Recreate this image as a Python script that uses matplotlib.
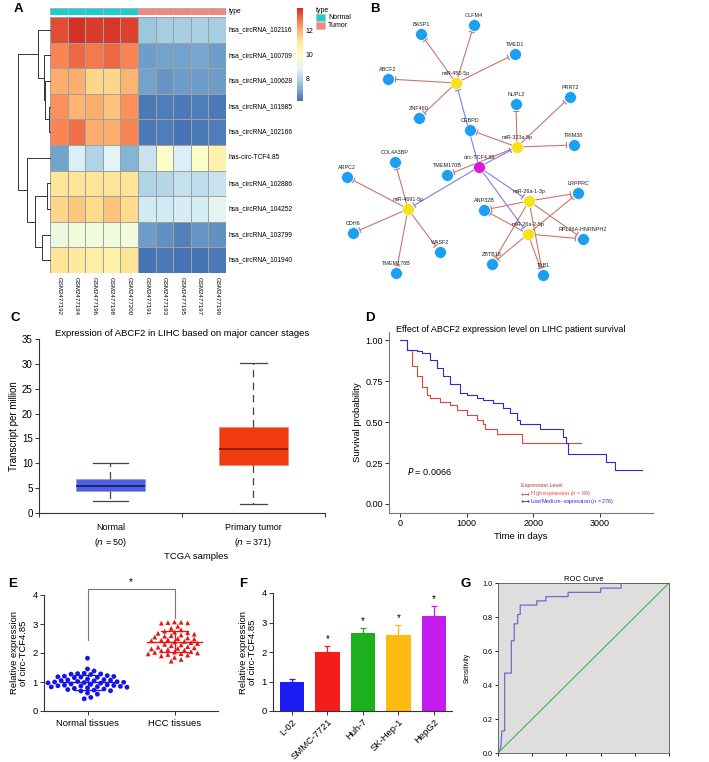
import numpy as np
import matplotlib
matplotlib.use("Agg")
import matplotlib.pyplot as plt
from matplotlib.colors import LinearSegmentedColormap, ListedColormap, Normalize
from matplotlib.patches import Rectangle
from matplotlib.cm import ScalarMappable

plt.rcParams['font.family'] = ['Liberation Sans', 'DejaVu Sans']

W, H = 709, 762

# ---------------- A: heatmap ----------------
row_names = ['hsa_circRNA_102116', 'hsa_circRNA_100709', 'hsa_circRNA_100628',
             'hsa_circRNA_101985', 'hsa_circRNA_102166', 'has-circ-TCF4.85',
             'hsa_circRNA_102886', 'hsa_circRNA_104252', 'hsa_circRNA_103799',
             'hsa_circRNA_101940']
col_names = ['GSM2477192', 'GSM2477194', 'GSM2477196', 'GSM2477198', 'GSM2477200',
             'GSM2477191', 'GSM2477193', 'GSM2477195', 'GSM2477197', 'GSM2477199']
sample_type = ['Normal'] * 5 + ['Tumor'] * 5
expr = np.array([
    [13.4, 13.8, 13.6, 13.7, 13.5, 7.7, 7.8, 7.8, 7.9, 7.8],
    [12.6, 13.0, 12.8, 13.0, 12.6, 6.9, 7.0, 7.0, 7.1, 6.9],
    [12.0, 12.0, 11.4, 11.4, 11.9, 7.0, 6.8, 6.9, 6.9, 6.9],
    [12.5, 11.9, 12.0, 11.7, 12.5, 6.3, 6.4, 6.3, 6.4, 6.3],
    [12.6, 12.9, 12.0, 12.0, 12.6, 6.3, 6.4, 6.2, 6.3, 6.4],
    [7.0, 8.7, 8.0, 8.8, 7.3, 8.4, 9.8, 8.7, 9.8, 10.6],
    [11.0, 11.0, 11.1, 11.1, 11.0, 8.0, 8.1, 8.3, 8.2, 8.4],
    [11.4, 11.6, 11.3, 11.7, 11.3, 8.5, 8.5, 8.6, 8.6, 8.9],
    [9.3, 9.4, 9.4, 9.4, 9.4, 6.9, 6.7, 6.5, 6.8, 6.7],
    [11.1, 10.9, 10.7, 10.5, 11.1, 6.2, 6.3, 6.2, 6.2, 6.3],
])
# row clustering: (cluster a, cluster b, height); leaves 0-9, new ids from 10
row_merges = [(3, 4, 0.03), (2, 10, 0.15), (1, 11, 0.18), (0, 12, 0.38),
              (6, 7, 0.09), (8, 9, 0.25), (14, 15, 0.47), (5, 16, 0.72),
              (13, 17, 1.0)]

# ---------------- B: network ----------------
circ_name = 'circ-TCF4.85'
node_pos = {
    'BASP1': (421, 34), 'OLFM4': (474, 25), 'TMED1': (515, 54), 'ABCF2': (388, 79),
    'miR-450-5p': (456, 83), 'ZNF460': (419, 118), 'NUPL2': (516, 104),
    'PRRT2': (570, 97), 'CEBPD': (470, 130), 'miR-323a-5p': (517, 147),
    'TRIM38': (574, 145), 'COL4A3BP': (395, 162), 'circ-TCF4.85': (479, 167),
    'TMEM170B': (447, 175), 'LRPPRC': (578, 193), 'miR-26a-1-3p': (529, 201),
    'ANP32B': (484, 210), 'miR-4691-5p': (408, 209), 'miR-26a-2-5p': (528, 234),
    'RPL36A-HNRNPH2': (583, 239), 'WASF2': (440, 252), 'ZBTB18': (492, 264),
    'TMEM178B': (396, 273), 'TAB1': (543, 275), 'ARPC2': (347, 177), 'CDH6': (353, 233),
}
mirna_targets = {
    'miR-450-5p': ['BASP1', 'OLFM4', 'TMED1', 'ABCF2', 'ZNF460'],
    'miR-323a-5p': ['NUPL2', 'PRRT2', 'CEBPD', 'TRIM38', 'TMEM170B'],
    'miR-4691-5p': ['COL4A3BP', 'ARPC2', 'CDH6', 'WASF2', 'TMEM178B'],
    'miR-26a-1-3p': ['LRPPRC', 'ANP32B', 'RPL36A-HNRNPH2', 'ZBTB18', 'TAB1'],
    'miR-26a-2-5p': ['LRPPRC', 'ANP32B', 'RPL36A-HNRNPH2', 'ZBTB18', 'TAB1'],
}

# ---------------- C: box plot ----------------
box_groups = ['Normal', 'Primary tumor']
box_n = [50, 371]
box_whislo = [2.4, 1.8]
box_q1 = [4.5, 9.6]
box_med = [5.4, 12.8]
box_q3 = [6.8, 17.3]
box_whishi = [10.0, 30.2]

# ---------------- D: Kaplan-Meier ----------------
km_high_t = [0, 100, 175, 250, 325, 400, 450, 600, 750, 850, 1000, 1150, 1250, 1275, 1450, 1835, 2725]
km_high_s = [1.0, 0.94, 0.84, 0.78, 0.715, 0.665, 0.645, 0.625, 0.605, 0.575, 0.545, 0.51, 0.49, 0.46, 0.43, 0.37, 0.37]
km_low_t = [0, 100, 250, 325, 450, 550, 650, 750, 900, 1000, 1150, 1250, 1400, 1550, 1650, 1750,
            1800, 2100, 2450, 2500, 2525, 3090, 3225, 3635]
km_low_s = [1.0, 0.94, 0.935, 0.92, 0.88, 0.83, 0.78, 0.73, 0.675, 0.665, 0.645, 0.635, 0.615,
            0.585, 0.555, 0.51, 0.49, 0.455, 0.41, 0.375, 0.305, 0.255, 0.205, 0.205]

# ---------------- E: tissues ----------------
normal_vals = [1.82, 1.45, 1.38, 1.3, 1.29, 1.28, 1.27, 1.26, 1.22, 1.2, 1.19, 1.18, 1.17,
               1.16, 1.15, 1.1, 1.08, 1.07, 1.06, 1.05, 1.04, 1.02, 1.01, 1.0, 0.99, 0.98,
               0.97, 0.96, 0.93, 0.92, 0.9, 0.89, 0.88, 0.87, 0.86, 0.85, 0.84, 0.83, 0.82,
               0.8, 0.78, 0.76, 0.74, 0.72, 0.7, 0.69, 0.62, 0.58, 0.47, 0.42]
hcc_vals = [3.07, 3.06, 3.05, 3.04, 3.03, 2.92, 2.85, 2.8, 2.75, 2.72, 2.7, 2.68, 2.65, 2.62,
            2.6, 2.58, 2.55, 2.52, 2.5, 2.48, 2.46, 2.44, 2.42, 2.4, 2.38, 2.36, 2.33, 2.3,
            2.28, 2.25, 2.22, 2.2, 2.18, 2.16, 2.14, 2.12, 2.1, 2.08, 2.05, 2.03, 2.02, 2.0,
            1.98, 1.97, 1.95, 1.93, 1.9, 1.85, 1.78, 1.72]
tissue_labels = ['Normal tissues', 'HCC tissues']

# ---------------- F: cell lines ----------------
cell_lines = ['L-02', 'SMMC-7721', 'Huh-7', 'SK-Hep-1', 'HepG2']
cell_means = [1.0, 2.0, 2.65, 2.57, 3.22]
cell_err = [0.1, 0.22, 0.18, 0.35, 0.35]
cell_colors = ['#1c1cf5', '#f51c1c', '#1cb01c', '#ffbb12', '#c41cf0']

# ---------------- G: ROC ----------------
roc_fpr = [0, 0.01, 0.017, 0.023, 0.039, 0.039, 0.078, 0.078, 0.095, 0.095, 0.115, 0.115,
           0.13, 0.13, 0.227, 0.227, 0.28, 0.28, 0.41, 0.41, 0.6, 0.6, 0.72, 0.72, 1.0]
roc_tpr = [0, 0.016, 0.04, 0.13, 0.13, 0.47, 0.47, 0.66, 0.66, 0.76, 0.76, 0.815, 0.815,
           0.87, 0.87, 0.895, 0.895, 0.92, 0.92, 0.945, 0.945, 0.97, 0.97, 1.0, 1.0]


fig = plt.figure(figsize=(W / 100, H / 100), dpi=100)


def add_ax(x0, y0, x1, y1):
    # axes placed by pixel box (left, top, right, bottom)
    return fig.add_axes([x0 / W, 1 - y1 / H, (x1 - x0) / W, (y1 - y0) / H])


def fig_text(x, y, s, **kw):
    fig.text(x / W, 1 - y / H, s, **kw)


def panel_label(x, y, s):
    fig_text(x, y, s, fontsize=9.5, fontweight='bold', ha='center', va='center')


def style_axes(ax, fs=7):
    for side in ['top', 'right']:
        ax.spines[side].set_visible(False)
    for side in ['left', 'bottom']:
        ax.spines[side].set_color('#333333')
        ax.spines[side].set_linewidth(0.8)
    ax.tick_params(labelsize=fs, length=3, width=0.7, color='#333333', pad=1.5)


# ===== A =====
panel_label(18, 9, 'A')
brewer = ['#4575B4', '#91BFDB', '#E0F3F8', '#FFFFBF', '#FEE090', '#FC8D59', '#D73027']
hm_cmap = LinearSegmentedColormap.from_list('pheat', brewer, N=100)
hm_norm = Normalize(expr.min(), expr.max())

ax = add_ax(50, 17, 226, 273)
ax.pcolormesh(np.arange(11), np.arange(11), expr, cmap=hm_cmap, norm=hm_norm,
              edgecolors='#a0a0a0', linewidth=0.6)
ax.set_xlim(0, 10)
ax.set_ylim(10, 0)
ax.axis('off')
for i, name in enumerate(row_names):
    ax.text(10.15, i + 0.5, name, va='center', ha='left', fontsize=4.8)
for j, name in enumerate(col_names):
    ax.text(j + 0.5, 10.15, name, rotation=-90, va='top', ha='center', fontsize=4.4)

type_colors = {'Normal': '#1ccfcf', 'Tumor': '#f4857f'}
ax = add_ax(50, 8, 226, 15)
codes = np.array([[0 if t == 'Normal' else 1 for t in sample_type]])
ax.pcolormesh(np.arange(11), [0, 1], codes,
              cmap=ListedColormap([type_colors['Normal'], type_colors['Tumor']]),
              edgecolors='#b0b0b0', linewidth=0.6)
ax.set_xlim(0, 10)
ax.axis('off')
ax.text(10.15, 0.5, 'type', va='center', ha='left', fontsize=4.8)

# dendrogram
ax = add_ax(18, 17, 50, 273)
ax.set_xlim(1.0, 0)
ax.set_ylim(10, 0)
ax.axis('off')
pos = {i: (0.0, i + 0.5) for i in range(10)}
for k, (a, b, h) in enumerate(row_merges):
    ha_, ya = pos[a]
    hb, yb = pos[b]
    ax.plot([ha_, h, h, hb], [ya, ya, yb, yb], color='#333333', lw=0.7, clip_on=False)
    pos[10 + k] = (h, (ya + yb) / 2)

# colorbar
cax = add_ax(297, 8, 303, 101)
cb = fig.colorbar(ScalarMappable(norm=hm_norm, cmap=hm_cmap), cax=cax, ticks=[8, 10, 12])
cb.outline.set_visible(False)
cax.tick_params(labelsize=5, length=0, pad=2)

fig_text(316, 11, 'type', fontsize=5, va='center')
for k, t in enumerate(['Normal', 'Tumor']):
    yy = 14 + k * 8
    fig.patches.append(Rectangle((316 / W, 1 - (yy + 7) / H), 9 / W, 7 / H,
                                 transform=fig.transFigure, facecolor=type_colors[t],
                                 edgecolor='#c0c0c0', lw=0.4))
    fig_text(328, yy + 3.5, t, fontsize=5, va='center')

# ===== B =====
panel_label(375, 9, 'B')
ax = add_ax(340, 0, 709, 285)
ax.set_xlim(340, 709)
ax.set_ylim(285, 0)
ax.axis('off')


def inhibit_edge(a, b, color):
    (x0, y0), (x1, y1) = node_pos[a], node_pos[b]
    d = np.hypot(x1 - x0, y1 - y0)
    ux, uy = (x1 - x0) / d, (y1 - y0) / d
    ex, ey = x1 - ux * 7.5, y1 - uy * 7.5
    ax.plot([x0, ex], [y0, ey], color=color, lw=0.8, zorder=1)
    ax.plot([ex - uy * 2.5, ex + uy * 2.5], [ey + ux * 2.5, ey - ux * 2.5], color=color, lw=0.8, zorder=1)


for mir, targets in mirna_targets.items():
    for t in targets:
        inhibit_edge(mir, t, '#c9776c')
    inhibit_edge(circ_name, mir, '#7f7ce8')

for name, (x, y) in node_pos.items():
    if name == circ_name:
        col = '#d51cd0'
    elif name.startswith('miR'):
        col = '#f5e11c'
    else:
        col = '#1c9ff0'
    ax.scatter([x], [y], s=72, color=col, edgecolors='white', linewidths=0.4, zorder=3)
    ax.text(x, y - 7, name, ha='center', va='bottom', fontsize=3.9, color='#222222', zorder=4)

# ===== C =====
panel_label(15, 318, 'C')
ax = add_ax(39, 339, 325, 513)
stats = []
for k in range(len(box_groups)):
    stats.append(dict(whislo=box_whislo[k], q1=box_q1[k], med=box_med[k], q3=box_q3[k],
                      whishi=box_whishi[k], fliers=[]))
bp = ax.bxp(stats, positions=[0.5, 1.5], widths=0.48, patch_artist=True,
            boxprops=dict(lw=0.4),
            whiskerprops=dict(color='#444444', lw=0.9, linestyle=(0, (6, 4))),
            capprops=dict(color='#444444', lw=0.9), medianprops=dict(lw=1.3))
for patch, fc, ec in zip(bp['boxes'], ['#4f60e0', '#f03a0f'], ['#8890f0', '#f08060']):
    patch.set_facecolor(fc)
    patch.set_edgecolor(ec)
for med, mc in zip(bp['medians'], ['#1b1b70', '#8a1a08']):
    med.set_color(mc)
for cap, hw in zip(bp['caps'], [0.12, 0.12, 0.095, 0.095]):
    c = np.mean(cap.get_xdata())
    cap.set_xdata([c - hw, c + hw])
ax.set_xlim(0, 2)
ax.set_ylim(0, 35)
ax.set_xticks([0, 1, 2])
ax.set_xticklabels([])
ax.set_yticks(range(0, 36, 5))
style_axes(ax, 7)
ax.set_title('Expression of ABCF2 in LIHC based on major cancer stages', fontsize=6.8, pad=2)
ax.set_ylabel('Transcript per million', fontsize=7, labelpad=2)
for k, g in enumerate(box_groups):
    ax.text(k + 0.5, -2.1, g, ha='center', va='top', fontsize=6.5)
    ax.text(k + 0.5, -4.6, '($\\it{n}$ = %d)' % box_n[k], ha='center', va='top', fontsize=6.5)
ax.text(1.1, -7.9, 'TCGA samples', ha='center', va='top', fontsize=6.8)

# ===== D =====
panel_label(370, 318, 'D')
ax = add_ax(389, 332, 653, 513)
ax.step(km_high_t, km_high_s, where='post', color='#e8413a', lw=0.8)
ax.step(km_low_t, km_low_s, where='post', color='#2a2ad0', lw=0.8)
ax.set_xlim(-165, 3800)
ax.set_ylim(-0.055, 1.05)
ax.set_yticks([0, 0.25, 0.5, 0.75, 1.0])
ax.set_yticklabels(['0.00', '0.25', '0.50', '0.75', '1.00'])
ax.set_xticks([0, 1000, 2000, 3000])
style_axes(ax, 6.5)
for side in ['left', 'bottom']:
    ax.spines[side].set_color('#777777')
ax.set_ylabel('Survival probability', fontsize=6.8, labelpad=2)
ax.set_xlabel('Time in days', fontsize=6.8, labelpad=3)
fig_text(396, 334, 'Effect of ABCF2 expression level on LIHC patient survival', fontsize=6.5,
         ha='left', va='bottom')
ax.text(100, 0.2, '$\\it{P}$ = 0.0066', fontsize=6.5, va='center')
ax.text(1820, 0.112, 'Expression Level', fontsize=3.9, color='#b03535', va='center')
ax.plot([1830, 1930], [0.064, 0.064], color='#e8413a', lw=0.6, marker='|', markersize=2)
ax.text(1960, 0.064, 'High expression ($\\it{n}$ = 89)', fontsize=3.9, color='#e8413a', va='center')
ax.plot([1830, 1930], [0.018, 0.018], color='#2a2ad0', lw=0.6, marker='|', markersize=2)
ax.text(1960, 0.018, 'Low/Medium\u2013expression ($\\it{n}$ = 276)', fontsize=3.9, color='#2a2ad0',
        va='center')

# ===== E =====
panel_label(13, 584, 'E')
ax = add_ax(44, 595, 218, 711)
xs_px, ys_px, d_px = 87.0, 29.0, 4.7


def swarm_offsets(vals):
    # simple beeswarm: shift each point sideways until it clears the placed ones
    placed = []
    offs = []
    for v in vals:
        y = v * ys_px
        k = 0
        while True:
            cands = [0.0] if k == 0 else [k * d_px * 0.7, -k * d_px * 0.7]
            ok = None
            for c in cands:
                if all((c - px) ** 2 + (y - py) ** 2 >= d_px ** 2 for px, py in placed):
                    ok = c
                    break
            if ok is not None:
                placed.append((ok, y))
                offs.append(ok / xs_px)
                break
            k += 1
    return np.array(offs)


for k, (vals, col, mk, ms) in enumerate([(normal_vals, '#1414e6', 'o', 12),
                                         (hcc_vals, '#e61414', '^', 12)]):
    vals = np.array(vals)
    offs = swarm_offsets(vals)
    ax.scatter(k + offs, vals, s=ms, marker=mk, color=col, edgecolors='none', zorder=3)
    m, sd = vals.mean(), vals.std()
    ax.plot([k - 0.32, k + 0.32], [m, m], color=col, lw=1.0, zorder=4)
    ax.plot([k, k], [m - sd, m + sd], color=col, lw=0.9, zorder=4)
    for yy in (m - sd, m + sd):
        ax.plot([k - 0.16, k + 0.16], [yy, yy], color=col, lw=0.9, zorder=4)
ax.plot([0, 0, 1, 1], [2.45, 4.2, 4.2, 3.2], color='#777777', lw=0.8, clip_on=False)
ax.text(0.5, 4.27, '*', ha='center', va='bottom', fontsize=7)
ax.set_xlim(-0.5, 1.5)
ax.set_ylim(0, 4)
ax.set_yticks(range(5))
ax.set_xticks([0, 1])
ax.set_xticklabels(tissue_labels)
style_axes(ax, 6.8)
ax.tick_params(axis='x', pad=3)
ax.set_ylabel('Relative expression\nof circ-TCF4.85', fontsize=6.8, labelpad=3, linespacing=1.1)

# ===== F =====
panel_label(243, 584, 'F')
ax = add_ax(273, 593, 452, 711)
xpos = np.arange(len(cell_lines))
for k in range(len(cell_lines)):
    ax.bar(xpos[k], cell_means[k], width=0.68, color=cell_colors[k],
           yerr=[[0], [cell_err[k]]], ecolor=cell_colors[k], capsize=2.5,
           error_kw=dict(lw=0.9, capthick=0.9))
    if k > 0:
        ax.text(xpos[k], cell_means[k] + cell_err[k] + 0.06, '*', ha='center', va='bottom',
                fontsize=7)
ax.set_xlim(-0.535, 4.507)
ax.set_ylim(0, 4)
ax.set_yticks(range(5))
ax.set_xticks(xpos)
ax.set_xticklabels(cell_lines, rotation=45, ha='right', rotation_mode='anchor')
style_axes(ax, 6.8)
ax.set_ylabel('Relative expression\nof circ-TCF4.85', fontsize=6.8, labelpad=3, linespacing=1.1)

# ===== G =====
panel_label(466, 584, 'G')
ax = add_ax(498, 583, 669, 753)
ax.set_facecolor('#dedede')
ax.plot(roc_fpr, roc_tpr, color='#6a6fc8', lw=0.9)
ax.plot([0, 1], [0, 1], color='#4cb34c', lw=0.8)
ax.set_xlim(0, 1)
ax.set_ylim(0, 1)
ax.set_xticks(np.linspace(0, 1, 6))
ax.set_xticklabels([])
ax.set_yticks(np.linspace(0, 1, 6))
ax.set_yticklabels(['0.0', '0.2', '0.4', '0.6', '0.8', '1.0'])
for sp in ax.spines.values():
    sp.set_color('#555555')
    sp.set_linewidth(0.6)
ax.tick_params(labelsize=5.2, length=2.5, width=0.6, pad=1.5)
ax.set_ylabel('Sensitivity', fontsize=4.8, labelpad=8)
ax.set_title('ROC Curve', fontsize=5.5, pad=1.5)

fig.savefig('out.png', dpi=100)
